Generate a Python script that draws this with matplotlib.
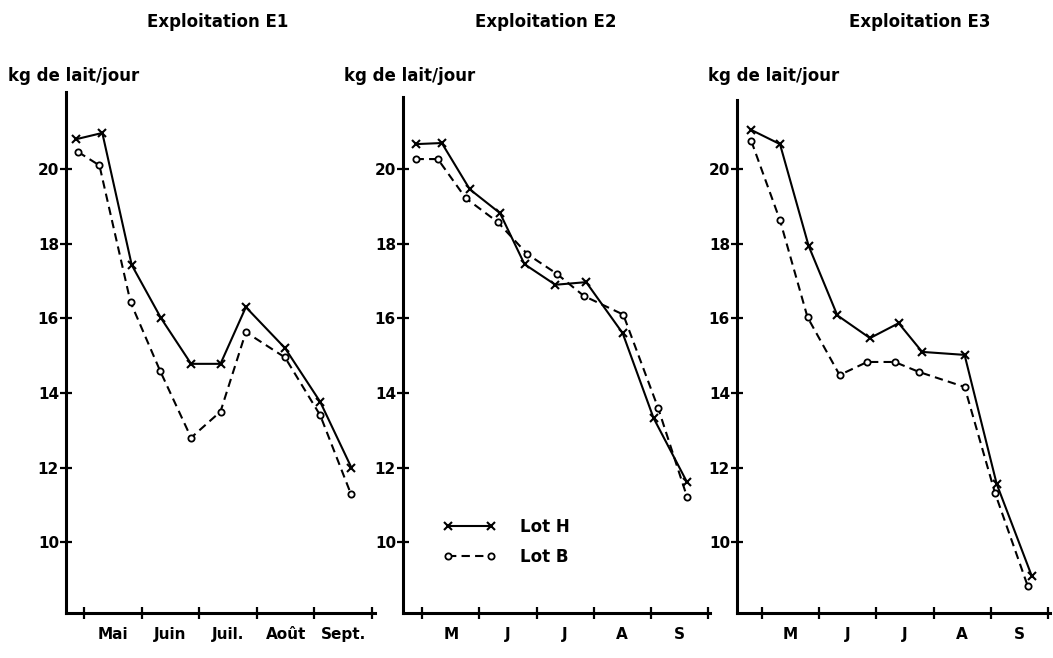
import matplotlib
matplotlib.use("Agg")
import matplotlib.pyplot as plt
from matplotlib.lines import Line2D

plt.rcParams['font.family'] = ['DejaVu Sans']
plt.rcParams['font.weight'] = 'bold'

# ---- Data (x in months: 5 = 1 May, 6 = 1 June, ...) ----
titles = ["Exploitation E1", "Exploitation E2", "Exploitation E3"]
ylabel = "kg de lait/jour"
month_labels_e1 = ["Mai", "Juin", "Juil.", "Août", "Sept."]
month_labels_short = ["M", "J", "J", "A", "S"]
yticks = [10, 12, 14, 16, 18, 20]

e1_h_x = [4.86, 5.32, 5.83, 6.34, 6.86, 7.37, 7.81, 8.49, 9.10, 9.64]
e1_h_y = [20.8, 20.97, 17.43, 16.0, 14.78, 14.78, 16.3, 15.2, 13.76, 12.0]
e1_b_x = [4.90, 5.27, 5.81, 6.32, 6.86, 7.37, 7.81, 8.49, 9.10, 9.63]
e1_b_y = [20.46, 20.1, 16.43, 14.6, 12.8, 13.5, 15.63, 14.95, 13.4, 11.3]

e2_h_x = [4.88, 5.34, 5.83, 6.36, 6.79, 7.33, 7.87, 8.51, 9.05, 9.64]
e2_h_y = [20.67, 20.7, 19.46, 18.82, 17.45, 16.9, 16.97, 15.6, 13.33, 11.6]
e2_b_x = [4.88, 5.27, 5.76, 6.32, 6.84, 7.35, 7.83, 8.52, 9.13, 9.64]
e2_b_y = [20.27, 20.27, 19.22, 18.58, 17.72, 17.2, 16.6, 16.1, 13.6, 11.2]

e3_h_x = [4.82, 5.32, 5.82, 6.32, 6.89, 7.39, 7.80, 8.54, 9.10, 9.71]
e3_h_y = [21.05, 20.67, 17.94, 16.08, 15.47, 15.87, 15.1, 15.02, 11.56, 9.1]
e3_b_x = [4.82, 5.32, 5.80, 6.36, 6.84, 7.32, 7.75, 8.54, 9.07, 9.64]
e3_b_y = [20.75, 18.63, 16.03, 14.48, 14.83, 14.83, 14.56, 14.16, 11.32, 8.83]

month_ticks = [5, 6, 7, 8, 9, 10]
label_pos = [5.5, 6.5, 7.5, 8.5, 9.5]

W, H = 1053, 658
fig = plt.figure(figsize=(W / 100, H / 100), dpi=100)

# pixel boxes: left, right, top, bottom
boxes = [(66, 375, 92, 613), (403, 710, 97, 613), (737, 1050, 100, 613)]
xlims = [(4.69, 10.05), (4.66, 10.04), (4.57, 10.03)]
px_per_unit = 37.3

panels = [
    (e1_h_x, e1_h_y, e1_b_x, e1_b_y, month_labels_e1),
    (e2_h_x, e2_h_y, e2_b_x, e2_b_y, month_labels_short),
    (e3_h_x, e3_h_y, e3_b_x, e3_b_y, month_labels_short),
]
title_x = [218, 546, 920]
ylabel_x = [8, 344, 708]

axes = []
for i, ((l, r, t, b), (hx, hy, bx, by, mlabels)) in enumerate(zip(boxes, panels)):
    ax = fig.add_axes([l / W, 1 - b / H, (r - l) / W, (b - t) / H])
    ax.plot(hx, hy, color='black', lw=1.5, marker='x', ms=6, mew=1.5)
    ax.plot(bx, by, color='black', lw=1.5, ls=(0, (4, 2.5)), marker='o', ms=4.5,
            mfc='white', mew=1.3)
    ybot = 8.1
    ytop = ybot + (b - t) / px_per_unit
    ax.set_ylim(ybot, ytop)
    ax.set_xlim(*xlims[i])
    for s in ['top', 'right']:
        ax.spines[s].set_visible(False)
    for s in ['left', 'bottom']:
        ax.spines[s].set_linewidth(2.2)
    ax.set_yticks(yticks)
    ax.set_yticklabels([str(v) for v in yticks], fontsize=11, fontweight='bold')
    ax.set_xticks(month_ticks)
    ax.set_xticklabels([])
    ax.set_xticks(label_pos, minor=True)
    ax.set_xticklabels(mlabels, minor=True, fontsize=11, fontweight='bold')
    ax.tick_params(axis='both', which='major', direction='inout', length=8, width=1.6, pad=2)
    ax.tick_params(axis='x', which='minor', length=0, pad=10)
    ax.tick_params(axis='y', pad=1)
    fig.text(title_x[i] / W, 1 - 22 / H, titles[i], ha='center', va='center',
             fontsize=12, fontweight='bold')
    fig.text(ylabel_x[i] / W, 1 - 76 / H, ylabel, ha='left', va='center',
             fontsize=12, fontweight='bold')
    axes.append(ax)

handles = [
    Line2D([], [], color='black', lw=1.5, marker='x', ms=6, mew=1.5),
    Line2D([], [], color='black', lw=1.5, ls=(0, (4, 2.5)), marker='o', ms=4.5,
           mfc='white', mew=1.3),
]
axes[1].legend(handles, ["Lot H", "Lot B"], numpoints=2, frameon=False,
               loc='upper left', bbox_to_anchor=(0.13, 0.185), handlelength=3.2,
               handletextpad=1.4, borderpad=0, borderaxespad=0,
               prop={'weight': 'bold', 'size': 12}, labelspacing=0.75)

fig.savefig("out.png", dpi=100)
